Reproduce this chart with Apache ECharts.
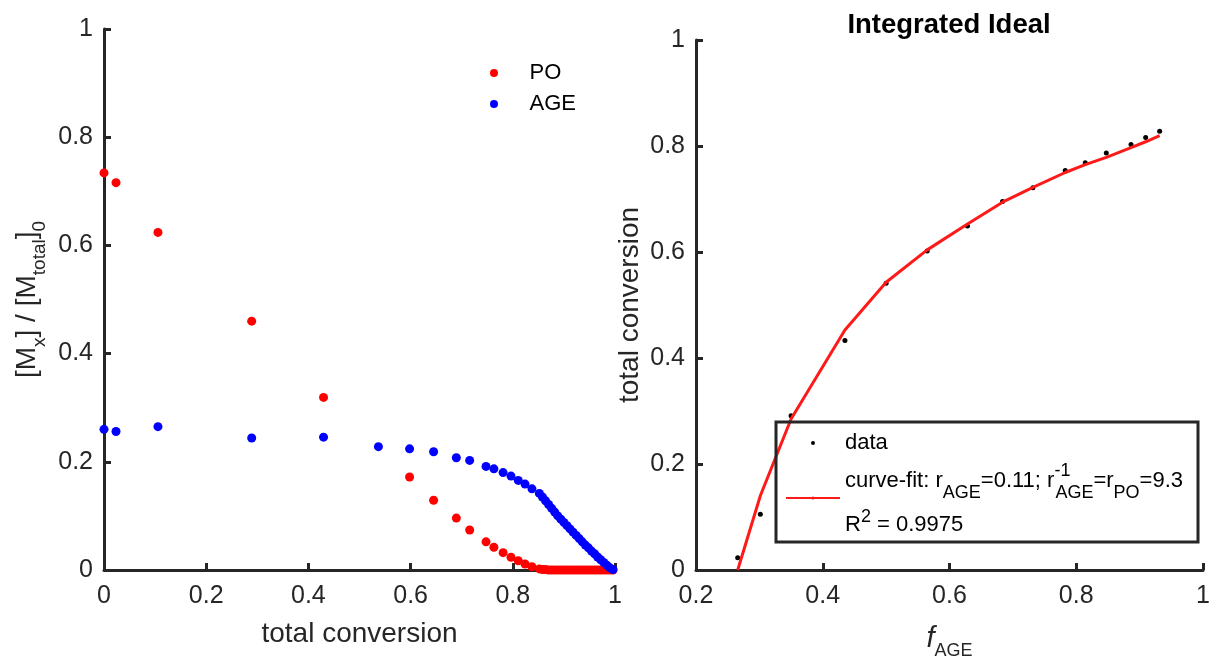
<!DOCTYPE html>
<html><head><meta charset="utf-8">
<script src="https://cdn.jsdelivr.net/npm/echarts@6/dist/echarts.min.js"></script>
<style>html,body{margin:0;padding:0;background:#fff}#c{width:1218px;height:656px}</style>
</head><body><div id="c"></div>
<script>
// ---- Left panel: monomer fractions vs total conversion ----
const conversion = [0, 0.0235, 0.1056, 0.289, 0.4296, 0.537, 0.598, 0.645, 0.6895, 0.7156, 0.7476, 0.763, 0.781, 0.7965, 0.8107, 0.824, 0.8375, 0.852,
  0.858, 0.864, 0.870, 0.876, 0.882, 0.888, 0.894, 0.900, 0.906, 0.912, 0.918, 0.924, 0.930, 0.936, 0.942, 0.948, 0.954, 0.960, 0.966, 0.972, 0.978, 0.984, 0.990, 0.996];
const poFraction = [0.734, 0.716, 0.624, 0.460, 0.319, null, 0.172, 0.129, 0.096, 0.074, 0.052, 0.042, 0.032, 0.0235, 0.017, 0.011, 0.006, 0.002,
  0.001, 0.001, 0, 0, 0, 0, 0, 0, 0, 0, 0, 0, 0, 0, 0, 0, 0, 0, 0, 0, 0, 0, 0, 0];
const ageFraction = [0.260, 0.256, 0.265, 0.244, 0.2456, 0.228, 0.224, 0.2185, 0.2075, 0.2026, 0.1915, 0.187, 0.180, 0.1736, 0.1656, 0.1588, 0.150, 0.1416,
  0.135, 0.128, 0.121, 0.114, 0.107, 0.100, 0.094, 0.088, 0.082, 0.076, 0.070, 0.064, 0.058, 0.052, 0.046, 0.041, 0.035, 0.030, 0.024, 0.019, 0.014, 0.009, 0.004, 0.001];
const leftSeriesNames = ['PO', 'AGE'];

// ---- Right panel: Integrated Ideal fit ----
const fAGE = [0.2658, 0.3015, 0.35, 0.435, 0.500, 0.5648, 0.6284, 0.6837, 0.7316, 0.7826, 0.8142, 0.8474, 0.8864, 0.9095, 0.9316];
const convData = [0.023, 0.105, 0.291, 0.433, 0.541, 0.602, 0.649, 0.6955, 0.721, 0.754, 0.7685, 0.787, 0.803, 0.816, 0.828];
const convFit = [0.0, 0.14, 0.285, 0.453, 0.543, 0.604, 0.653, 0.694, 0.722, 0.750, 0.765, 0.7785, 0.797, 0.808, 0.8195];
const rightSeriesNames = ['data', 'curve-fit'];

const FONT = "'Liberation Sans', Arial, sans-serif";
const AX = '#262626';

function axisStyle(extra) {
  return Object.assign({
    type: 'value',
    axisLine: { show: true, onZero: false, lineStyle: { color: AX, width: 3 } },
    axisTick: { show: true, inside: true, length: 7, lineStyle: { color: AX, width: 3 } },
    axisLabel: { color: AX, fontSize: 25, fontFamily: FONT },
    splitLine: { show: false },
    nameLocation: 'middle',
    nameTextStyle: { color: AX, fontSize: 28, fontFamily: FONT }
  }, extra);
}

const pairs = (xs, ys) => xs.map((x, i) => [x, ys[i]]).filter(p => p[1] !== null);

const chart = echarts.init(document.getElementById('c'), null, { renderer: 'canvas' });
chart.setOption({
  animation: false,
  backgroundColor: '#fff',
  title: {
    text: 'Integrated Ideal', left: 944, top: 6, textAlign: 'center',
    textStyle: { fontSize: 27.5, fontWeight: 'bold', color: '#000', fontFamily: FONT }
  },
  grid: [
    { left: 104, top: 29, width: 511, height: 541, containLabel: false, outerBoundsMode: 'none' },
    { left: 696, top: 40, width: 507, height: 530, containLabel: false, outerBoundsMode: 'none' }
  ],
  xAxis: [
    axisStyle({ gridIndex: 0, min: 0, max: 1, interval: 0.2, name: 'total conversion', nameGap: 50,
      axisLabel: { color: AX, fontSize: 25, fontFamily: FONT, margin: 14 } }),
    axisStyle({ gridIndex: 1, min: 0.2, max: 1, interval: 0.2, name: '{i|f}{s|AGE}', nameGap: 48,
      axisLabel: { color: AX, fontSize: 25, fontFamily: FONT, margin: 14 },
      nameTextStyle: { color: AX, fontSize: 28, fontFamily: FONT, lineHeight: 42,
        rich: { i: { fontStyle: 'italic', fontSize: 29, lineHeight: 42, color: AX, fontFamily: FONT },
                s: { fontSize: 18, lineHeight: 18, verticalAlign: 'bottom', color: AX, fontFamily: FONT } } } })
  ],
  yAxis: [
    axisStyle({ gridIndex: 0, min: 0, max: 1, interval: 0.2, nameRotate: 90, nameGap: 55,
      name: '[M{s|x}] / [M{s|total}]{s|0}',
      axisLabel: { color: AX, fontSize: 25, fontFamily: FONT, margin: 11 },
      nameTextStyle: { color: AX, fontSize: 28, fontFamily: FONT, lineHeight: 44,
        rich: { s: { fontSize: 19, lineHeight: 19, verticalAlign: 'bottom', color: AX, fontFamily: FONT } } } }),
    axisStyle({ gridIndex: 1, min: 0, max: 1, interval: 0.2, nameRotate: 90, nameGap: 52,
      name: 'total conversion',
      axisLabel: { color: AX, fontSize: 25, fontFamily: FONT, margin: 11 } })
  ],
  legend: [
    {
      data: leftSeriesNames, orient: 'vertical', left: 485, top: 55,
      itemWidth: 61, itemHeight: 8, itemGap: 5, selectedMode: false,
      textStyle: { fontSize: 22, lineHeight: 26, color: '#000', fontFamily: FONT }
    },
    {
      data: rightSeriesNames, orient: 'vertical', left: 776, top: 422,
      itemWidth: 54, itemHeight: 4, itemGap: 0, selectedMode: false,
      padding: [10, 15, 0, 9], borderColor: AX, borderWidth: 3,
      formatter: function (name) {
        if (name === 'data') return 'data';
        return '{a|curve-fit: r}{s|AGE}{a|=0.11; r}{pz|-1}{s|AGE}{a|=r}{s|PO}{a|=9.3}\n{b|R}{p|2}{b| = 0.9975}';
      },
      textStyle: {
        fontSize: 22, lineHeight: 16, color: '#000', fontFamily: FONT,
        rich: {
          a: { fontSize: 22, lineHeight: 54, color: '#000', fontFamily: FONT },
          b: { fontSize: 22, lineHeight: 34, color: '#000', fontFamily: FONT },
          s: { fontSize: 18, lineHeight: 18, verticalAlign: 'bottom', padding: [0, 0, 6, 0], color: '#000', fontFamily: FONT },
          p: { fontSize: 18, lineHeight: 18, verticalAlign: 'top', color: '#000', fontFamily: FONT },
          pz: { fontSize: 18, lineHeight: 18, verticalAlign: 'top', padding: [8, 0, 0, 0], width: 1, color: '#000', fontFamily: FONT }
        }
      }
    }
  ],
  series: [
    { name: 'PO', type: 'scatter', xAxisIndex: 0, yAxisIndex: 0, symbol: 'circle', symbolSize: 9,
      itemStyle: { color: '#ff0000', opacity: 1 }, emphasis: { disabled: true },
      data: pairs(conversion, poFraction) },
    { name: 'AGE', type: 'scatter', xAxisIndex: 0, yAxisIndex: 0, symbol: 'circle', symbolSize: 9,
      itemStyle: { color: '#0000ff', opacity: 1 }, emphasis: { disabled: true },
      data: pairs(conversion, ageFraction) },
    { name: 'data', type: 'scatter', xAxisIndex: 1, yAxisIndex: 1, symbol: 'circle', symbolSize: 5,
      itemStyle: { color: '#000', opacity: 1 }, emphasis: { disabled: true },
      data: pairs(fAGE, convData) },
    { name: 'curve-fit', type: 'line', xAxisIndex: 1, yAxisIndex: 1, symbol: 'none', showSymbol: false,
      lineStyle: { color: '#ff1a1a', width: 3 }, itemStyle: { color: '#ff1a1a' }, emphasis: { disabled: true },
      data: pairs(fAGE, convFit) }
  ]
});
</script>
</body></html>
